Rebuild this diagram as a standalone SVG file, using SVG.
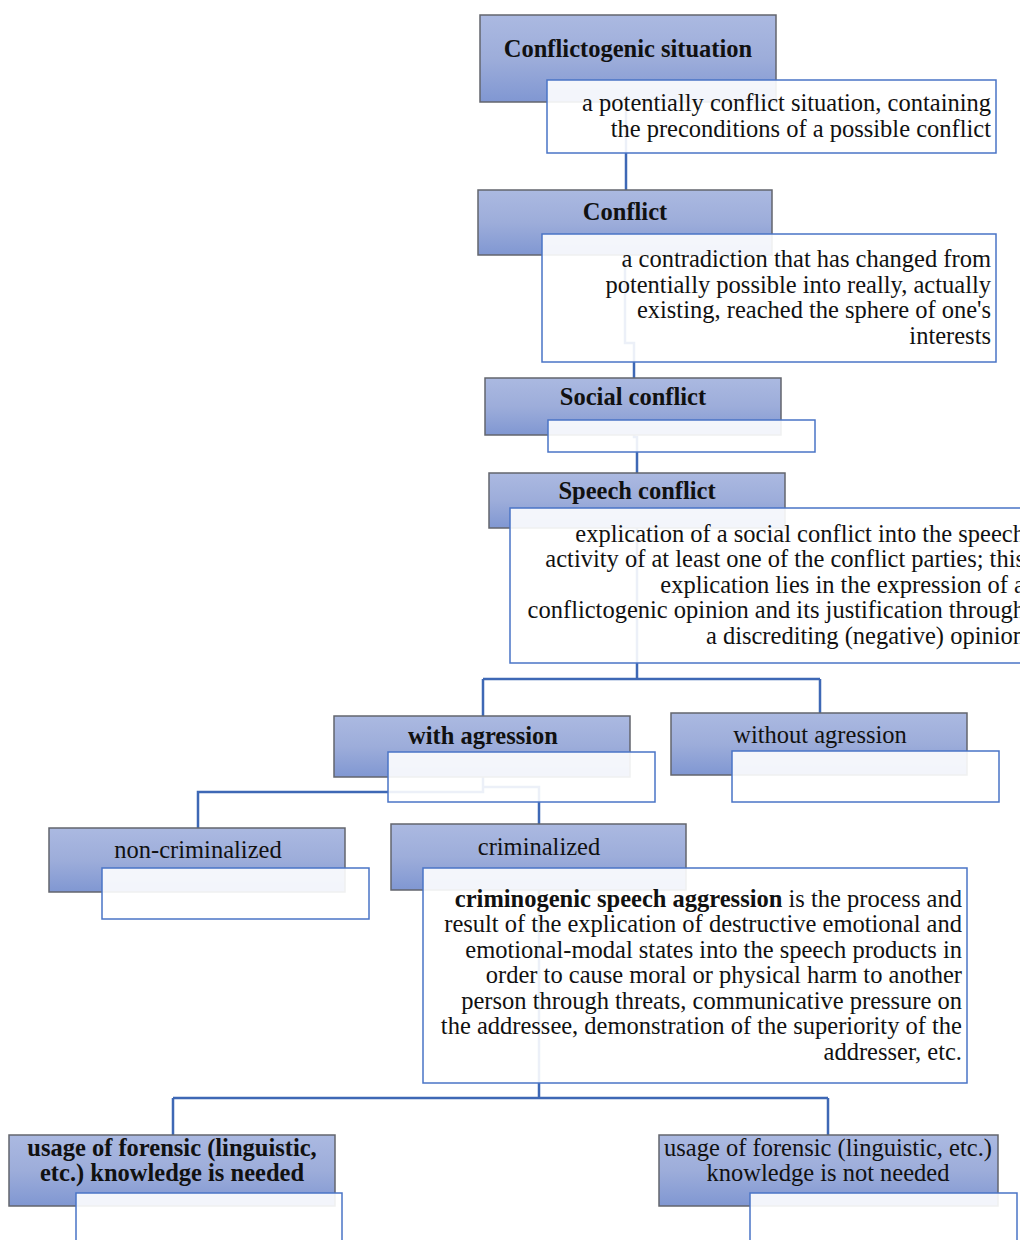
<svg xmlns="http://www.w3.org/2000/svg" width="1020" height="1240" viewBox="0 0 1020 1240">
<defs>
<linearGradient id="hg" x1="0" y1="0" x2="0" y2="1">
<stop offset="0" stop-color="#abb9e1"/>
<stop offset="0.5" stop-color="#9dadda"/>
<stop offset="1" stop-color="#8097d2"/>
</linearGradient>
<style>
.hd{fill:url(#hg);stroke:#63656d;stroke-width:1.5}
.bx{fill:#ffffff;fill-opacity:0.9;stroke:#4a74c6;stroke-width:1.5}
.cn{fill:none;stroke:#3e68b5;stroke-width:2.5}
text{font-family:"Liberation Serif","Times New Roman",serif;font-size:24.5px;fill:#111}
.t{text-anchor:middle}
.b{font-weight:bold}
.r{text-anchor:end}
</style>
</defs>
<rect width="1020" height="1240" fill="#ffffff"/>
<g id="connectors">
<path class="cn" d="M626 101 V190"/>
<path class="cn" d="M625 255 V343 H634 V378"/>
<path class="cn" d="M634 435 V437 H637 V473"/>
<path class="cn" d="M637 528 V679 M483 679 H820 M483 679 V716 M820 679 V713"/>
<path class="cn" d="M483 777 V792 H198 V828"/>
<path class="cn" d="M483 787 H539 V824"/>
<path class="cn" d="M539 890 V1098 M173 1098 H828 M173 1098 V1135 M828 1098 V1135"/>
</g>
<g id="n1">
<rect class="hd" x="480" y="15" width="296" height="87"/>
<text class="t b" x="628" y="57">Conflictogenic situation</text>
<rect class="bx" x="547" y="80" width="449" height="73"/>
<text class="r" x="991" y="111">a potentially conflict situation, containing</text>
<text class="r" x="991" y="137">the preconditions of a possible conflict</text>
</g>
<g id="n2">
<rect class="hd" x="478" y="190" width="294" height="65"/>
<text class="t b" x="625" y="220">Conflict</text>
<rect class="bx" x="542" y="234" width="454" height="128"/>
<text class="r" x="991" y="267">a contradiction that has changed from</text>
<text class="r" x="991" y="293">potentially possible into really, actually</text>
<text class="r" x="991" y="318">existing, reached the sphere of one's</text>
<text class="r" x="991" y="344">interests</text>
</g>
<g id="n3">
<rect class="hd" x="485" y="378" width="296" height="57"/>
<text class="t b" x="633" y="405">Social conflict</text>
<rect class="bx" x="548" y="420" width="267" height="32"/>
</g>
<g id="n4">
<rect class="hd" x="489" y="473" width="296" height="55"/>
<text class="t b" x="637" y="499">Speech conflict</text>
<rect class="bx" x="510" y="508" width="520" height="155"/>
<text class="r" x="1025" y="542">explication of a social conflict into the speech</text>
<text class="r" x="1025" y="567">activity of at least one of the conflict parties; this</text>
<text class="r" x="1025" y="593">explication lies in the expression of a</text>
<text class="r" x="1025" y="618">conflictogenic opinion and its justification through</text>
<text class="r" x="1025" y="644">a discrediting (negative) opinion</text>
</g>
<g id="n5">
<rect class="hd" x="334" y="716" width="296" height="61"/>
<text class="t b" x="483" y="744">with agression</text>
<rect class="bx" x="388" y="752" width="267" height="50"/>
</g>
<g id="n6">
<rect class="hd" x="671" y="713" width="296" height="62"/>
<text class="t" x="820" y="743">without agression</text>
<rect class="bx" x="732" y="751" width="267" height="51"/>
</g>
<g id="n7">
<rect class="hd" x="49" y="828" width="296" height="64"/>
<text class="t" x="198" y="858">non-criminalized</text>
<rect class="bx" x="102" y="868" width="267" height="51"/>
</g>
<g id="n8">
<rect class="hd" x="391" y="824" width="295" height="66"/>
<text class="t" x="539" y="855">criminalized</text>
<rect class="bx" x="423" y="868" width="544" height="215"/>
<text class="r" x="962" y="907"><tspan font-weight="bold">criminogenic speech aggression</tspan> is the process and</text>
<text class="r" x="962" y="932">result of the explication of destructive emotional and</text>
<text class="r" x="962" y="958">emotional-modal states into the speech products in</text>
<text class="r" x="962" y="983">order to cause moral or physical harm to another</text>
<text class="r" x="962" y="1009">person through threats, communicative pressure on</text>
<text class="r" x="962" y="1034">the addressee, demonstration of the superiority of the</text>
<text class="r" x="962" y="1060">addresser, etc.</text>
</g>
<g id="n9">
<rect class="hd" x="9" y="1135" width="326" height="71"/>
<text class="t b" x="172" y="1156">usage of forensic (linguistic,</text>
<text class="t b" x="172" y="1181">etc.) knowledge is needed</text>
<rect class="bx" x="76" y="1193" width="266" height="60"/>
</g>
<g id="n10">
<rect class="hd" x="659" y="1135" width="339" height="71"/>
<text class="t" x="828" y="1156">usage of forensic (linguistic, etc.)</text>
<text class="t" x="828" y="1181">knowledge is not needed</text>
<rect class="bx" x="750" y="1193" width="267" height="60"/>
</g>
</svg>
